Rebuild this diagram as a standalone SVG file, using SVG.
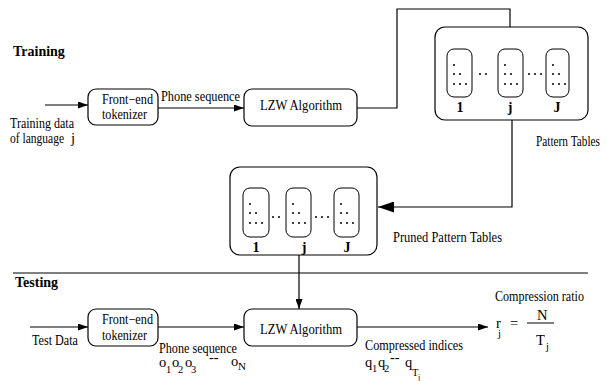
<svg xmlns="http://www.w3.org/2000/svg" width="607" height="381" viewBox="0 0 607 381" font-family="'Liberation Serif', 'DejaVu Serif', serif">
  <defs>
    <marker id="ah" markerWidth="10" markerHeight="7" refX="10" refY="3.5" orient="auto" markerUnits="userSpaceOnUse">
      <path d="M0,0 L10,3.5 L0,7 Z" fill="#000"/>
    </marker>
    <marker id="ahBig" markerWidth="16" markerHeight="11" refX="16" refY="5.5" orient="auto" markerUnits="userSpaceOnUse">
      <path d="M0,0 L16,5.5 L0,11 Z" fill="#000"/>
    </marker>
    <!-- one column of a pattern table: 1, 2 and 3 dots -->
    <g id="dots">
      <circle cx="7" cy="16" r="1"/>
      <circle cx="7" cy="25" r="1"/><circle cx="13" cy="25" r="1"/>
      <circle cx="7" cy="35" r="1"/><circle cx="13" cy="35" r="1"/><circle cx="19" cy="35" r="1"/>
    </g>
  </defs>
  <style>
    text { font-family: 'Liberation Serif', 'DejaVu Serif', serif; font-size: 14.5px; fill: #000; }
    .bold { font-weight: bold; font-size: 14px; }
    .lbl { font-weight: bold; font-size: 14px; text-anchor: middle; }
    .sub { font-size: 10.5px; }
    .box { fill: #fff; stroke: #000; stroke-width: 1.2; }
    .cell { fill: none; stroke: #000; stroke-width: 1; }
    .wire { fill: none; stroke: #000; stroke-width: 1.2; }
    .dot { fill: #000; }
  </style>

  <!-- section headings and divider -->
  <text class="bold" x="13" y="56">Training</text>
  <text class="bold" x="15" y="287">Testing</text>
  <line x1="13" y1="273" x2="588" y2="273" stroke="#000" stroke-width="1"/>

  <!-- connectors -->
  <g id="connectors">
    <line class="wire" x1="45" y1="105" x2="88" y2="105" marker-end="url(#ah)"/>
    <line class="wire" x1="158" y1="108" x2="244" y2="108" marker-end="url(#ah)"/>
    <polyline class="wire" points="357,108 397,108 397,9 510,9 510,49" marker-end="url(#ah)"/>
    <polyline class="wire" points="512,120 512,207 378,207" marker-end="url(#ahBig)"/>
    <line class="wire" x1="299" y1="237" x2="299" y2="309" marker-end="url(#ah)"/>
    <line class="wire" x1="30" y1="327" x2="88" y2="327" marker-end="url(#ah)"/>
    <line class="wire" x1="158" y1="327" x2="244" y2="327" marker-end="url(#ah)"/>
    <line class="wire" x1="357" y1="327" x2="488" y2="327" marker-end="url(#ah)"/>
  </g>

  <!-- training path -->
  <g id="train-frontend">
    <rect class="box" x="88" y="89" width="70" height="36" rx="8"/>
    <text x="102" y="104" textLength="51" lengthAdjust="spacingAndGlyphs">Front−end</text>
    <text x="102" y="119" textLength="45" lengthAdjust="spacingAndGlyphs">tokenizer</text>
  </g>
  <g id="train-input-label">
    <text x="10" y="128" textLength="64" lengthAdjust="spacingAndGlyphs">Training data</text>
    <text x="10" y="143" textLength="54" lengthAdjust="spacingAndGlyphs">of language</text>
    <text x="71" y="143">j</text>
  </g>
  <text x="161" y="101" textLength="79" lengthAdjust="spacingAndGlyphs">Phone sequence</text>
  <g id="train-lzw">
    <rect class="box" x="244" y="89" width="113" height="37" rx="8"/>
    <text x="260" y="110" textLength="82" lengthAdjust="spacingAndGlyphs">LZW Algorithm</text>
  </g>

  <!-- pattern tables -->
  <g id="pattern-tables">
    <rect class="box" x="435" y="27" width="153" height="93" rx="10"/>
    <rect class="cell" x="447" y="49" width="25" height="48" rx="7"/>
    <rect class="cell" x="498" y="49" width="25" height="48" rx="7"/>
    <rect class="cell" x="546" y="49" width="23" height="48" rx="7"/>
    <use href="#dots" class="dot" x="447" y="49"/>
    <use href="#dots" class="dot" x="498" y="49"/>
    <use href="#dots" class="dot" x="546" y="49"/>
    <circle class="dot" cx="480" cy="74" r="1"/><circle class="dot" cx="486" cy="74" r="1"/>
    <circle class="dot" cx="529" cy="74" r="1"/><circle class="dot" cx="535" cy="74" r="1"/><circle class="dot" cx="541" cy="74" r="1"/>
    <text class="lbl" x="460" y="112">1</text>
    <text class="lbl" x="510" y="112">j</text>
    <text class="lbl" x="557" y="112">J</text>
  </g>
  <text x="536" y="146" textLength="64" lengthAdjust="spacingAndGlyphs">Pattern Tables</text>

  <!-- pruned pattern tables -->
  <g id="pruned-tables">
    <rect class="box" x="230" y="167" width="147" height="88" rx="10"/>
    <rect class="cell" x="243" y="188" width="26" height="49" rx="7"/>
    <rect class="cell" x="286" y="188" width="25" height="49" rx="7"/>
    <rect class="cell" x="334" y="188" width="25" height="49" rx="7"/>
    <use href="#dots" class="dot" x="243" y="188"/>
    <use href="#dots" class="dot" x="286" y="188"/>
    <use href="#dots" class="dot" x="334" y="188"/>
    <circle class="dot" cx="273" cy="217" r="1"/><circle class="dot" cx="279" cy="217" r="1"/>
    <circle class="dot" cx="316" cy="217" r="1"/><circle class="dot" cx="322" cy="217" r="1"/><circle class="dot" cx="328" cy="217" r="1"/>
    <text class="lbl" x="256" y="252">1</text>
    <text class="lbl" x="304" y="252">j</text>
    <text class="lbl" x="347" y="252">J</text>
  </g>
  <text x="393" y="242" textLength="109" lengthAdjust="spacingAndGlyphs">Pruned Pattern Tables</text>

  <!-- testing path -->
  <text x="32" y="345" textLength="46" lengthAdjust="spacingAndGlyphs">Test Data</text>
  <g id="test-frontend">
    <rect class="box" x="88" y="309" width="70" height="37" rx="8"/>
    <text x="102" y="324" textLength="51" lengthAdjust="spacingAndGlyphs">Front−end</text>
    <text x="102" y="340" textLength="45" lengthAdjust="spacingAndGlyphs">tokenizer</text>
  </g>
  <text x="159" y="353" textLength="78" lengthAdjust="spacingAndGlyphs">Phone sequence</text>
  <g id="obs-seq">
    <text x="159" y="367">o</text><text class="sub" x="166" y="373">1</text>
    <text x="172" y="367">o</text><text class="sub" x="178" y="373">2</text>
    <text x="185" y="367">o</text><text class="sub" x="191" y="373">3</text>
    <text x="209" y="362">--</text>
    <text x="231" y="366">o</text><text class="sub" x="238" y="370" style="font-size:11px">N</text>
  </g>
  <g id="test-lzw">
    <rect class="box" x="244" y="309" width="113" height="37" rx="8"/>
    <text x="260" y="334" textLength="82" lengthAdjust="spacingAndGlyphs">LZW Algorithm</text>
  </g>
  <text x="365" y="350" textLength="98" lengthAdjust="spacingAndGlyphs">Compressed indices</text>
  <g id="index-seq">
    <text x="365" y="367">q</text><text class="sub" x="372" y="372">1</text>
    <text x="378" y="367">q</text><text class="sub" x="384" y="372">2</text>
    <text x="390" y="362">--</text>
    <text x="405" y="367">q</text><text class="sub" x="412" y="376">T</text><text class="sub" x="418" y="380" style="font-size:8px">j</text>
  </g>

  <!-- compression ratio -->
  <g id="ratio">
    <text x="495" y="301" textLength="89" lengthAdjust="spacingAndGlyphs">Compression ratio</text>
    <text x="496" y="328">r</text><text class="sub" x="498" y="337">j</text>
    <text x="510" y="328">=</text>
    <line x1="527" y1="323" x2="554" y2="323" stroke="#000" stroke-width="1"/>
    <text x="537" y="320">N</text>
    <text x="536" y="345">T</text><text class="sub" x="546" y="350">j</text>
  </g>
</svg>
